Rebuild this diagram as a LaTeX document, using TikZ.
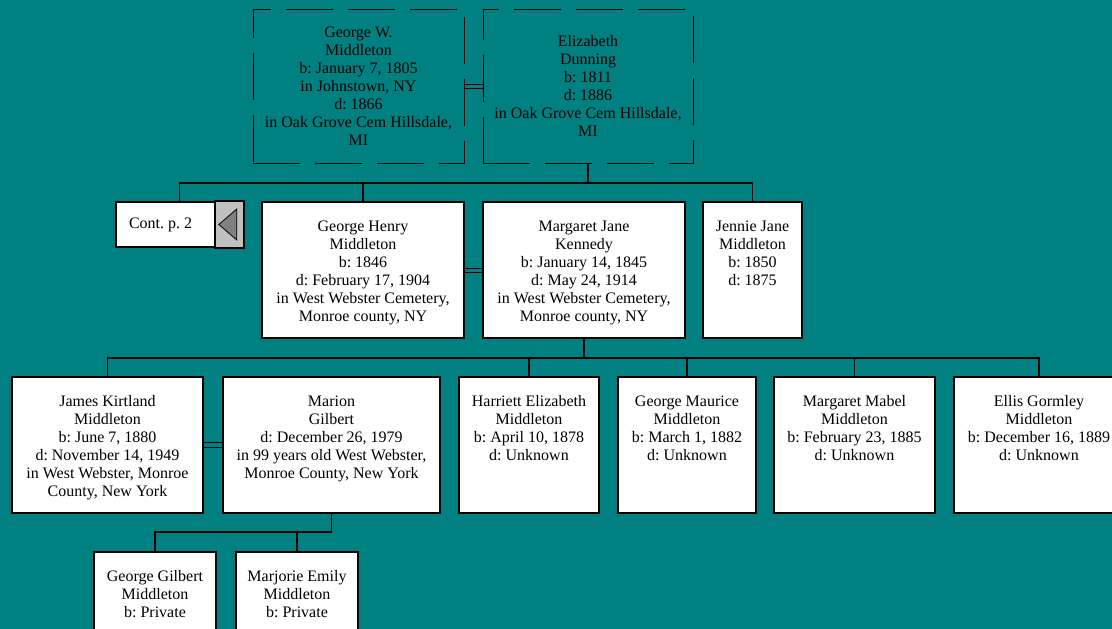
\documentclass[tikz,border=0pt]{standalone}
\usepackage{fontspec}
\setmainfont{Liberation Serif}
\frenchspacing

\definecolor{chartbg}{RGB}{0,128,128}
\definecolor{contgrey}{RGB}{192,192,192}
\definecolor{contdark}{RGB}{128,128,128}

% box contents: width, height, lines
\newcommand{\card}[3]{\parbox[c][#2pt][t]{#1pt}{\centering\rule{0pt}{29pt}#3\par}}
\newcommand{\midcard}[3]{\parbox[c][#2pt][c]{#1pt}{\centering #3\par}}

\begin{document}
\begin{tikzpicture}[x=1pt,y=-1pt,
    person/.style={draw,rectangle,fill=white,line width=1.6pt,inner sep=0pt,
      font=\fontsize{16}{18}\selectfont},
    elder/.style={draw,rectangle,dash pattern=on 47pt off 15pt,line width=1pt,
      inner sep=0pt,font=\fontsize{16}{18}\selectfont},
    tie/.style={line width=1.6pt},
    wed/.style={line width=0.9pt}]
    \useasboundingbox (0,0) rectangle (1112,629);
    \fill[chartbg] (0,0) rectangle (1112,629);
    \clip (0,0) rectangle (1112,629);

    % first generation
    \node[elder] (gw) at (358.5,86) {\midcard{211}{154}{George W.\\Middleton\\b: January 7, 1805\\in Johnstown, NY\\d: 1866\\in Oak Grove Cem Hillsdale,\\MI}};
    \node[elder] (el) at (588,86) {\midcard{210}{154}{Elizabeth\\Dunning\\b: 1811\\d: 1886\\in Oak Grove Cem Hillsdale,\\MI}};

    % second generation
    \node[person,minimum width=127pt,minimum height=45pt] (cont) at (179.5,224.5) {\makebox[101pt][l]{Cont. p. 2}};
    \node[person] (gh) at (363,270) {\card{202}{136}{George Henry\\Middleton\\b: 1846\\d: February 17, 1904\\in West Webster Cemetery,\\Monroe county, NY}};
    \node[person] (mj) at (584,270) {\card{202}{136}{Margaret Jane\\Kennedy\\b: January 14, 1845\\d: May 24, 1914\\in West Webster Cemetery,\\Monroe county, NY}};
    \node[person] (jj) at (752.5,270) {\card{99}{136}{Jennie Jane\\Middleton\\b: 1850\\d: 1875}};

    % third generation
    \node[person] (jk) at (107.5,445) {\card{191}{136}{James Kirtland\\Middleton\\b: June 7, 1880\\d: November 14, 1949\\in West Webster, Monroe\\County, New York}};
    \node[person] (mg) at (331.5,445) {\card{217}{136}{Marion\\Gilbert\\d: December 26, 1979\\in 99 years old West Webster,\\Monroe County, New York}};
    \node[person] (he) at (529,445) {\card{140}{136}{Harriett Elizabeth\\Middleton\\b: April 10, 1878\\d: Unknown}};
    \node[person] (gm) at (687,445) {\card{138}{136}{George Maurice\\Middleton\\b: March 1, 1882\\d: Unknown}};
    \node[person] (mm) at (854.5,445) {\card{161}{136}{Margaret Mabel\\Middleton\\b: February 23, 1885\\d: Unknown}};
    \node[person] (eg) at (1039,445) {\card{170}{136}{Ellis Gormley\\Middleton\\b: December 16, 1889\\d: Unknown}};

    % fourth generation
    \node[person] (gg) at (155,620) {\card{122}{136}{George Gilbert\\Middleton\\b: Private}};
    \node[person] (me) at (297,620) {\card{122}{136}{Marjorie Emily\\Middleton\\b: Private}};

    % back arrow of the continuation box
    \filldraw[fill=contgrey,line width=1.6pt] ([xshift=-29pt]cont.north east) rectangle (cont.south east);
    \filldraw[fill=contdark,line width=0.8pt] ([xshift=-25pt]cont.east) -- ([xshift=-7pt,yshift=15.5pt]cont.east) -- ([xshift=-7pt,yshift=-15.5pt]cont.east) -- cycle;

    % marriages
    \draw[wed] ([yshift=2pt]gw.east) -- ([yshift=2pt]el.west);
    \draw[wed] ([yshift=-2pt]gw.east) -- ([yshift=-2pt]el.west);
    \draw[wed] ([yshift=2pt]gh.east) -- ([yshift=2pt]mj.west);
    \draw[wed] ([yshift=-2pt]gh.east) -- ([yshift=-2pt]mj.west);
    \draw[wed] ([yshift=2.5pt]jk.east) -- ([yshift=2.5pt]mg.west);
    \draw[wed] ([yshift=-2.5pt]jk.east) -- ([yshift=-2.5pt]mg.west);

    % children
    \coordinate (bar2) at (0,183);
    \coordinate (bar3) at (0,358);
    \coordinate (bar4) at (0,532);
    \draw[tie] (el.south) -- (el.south |- bar2);
    \draw[tie] (cont.north) |- (jj.north |- bar2) -- (jj.north);
    \draw[tie] (gh.north) -- (gh.north |- bar2);
    \draw[tie] (mj.south) -- (mj.south |- bar3);
    \draw[tie] (jk.north) |- (eg.north |- bar3) -- (eg.north);
    \foreach \kid in {he,gm,mm}
      \draw[tie] (\kid.north) -- (\kid.north |- bar3);
    \draw[tie] (mg.south) |- (gg.north |- bar4) -- (gg.north);
    \draw[tie] (me.north) -- (me.north |- bar4);
  \end{tikzpicture}
\end{document}
